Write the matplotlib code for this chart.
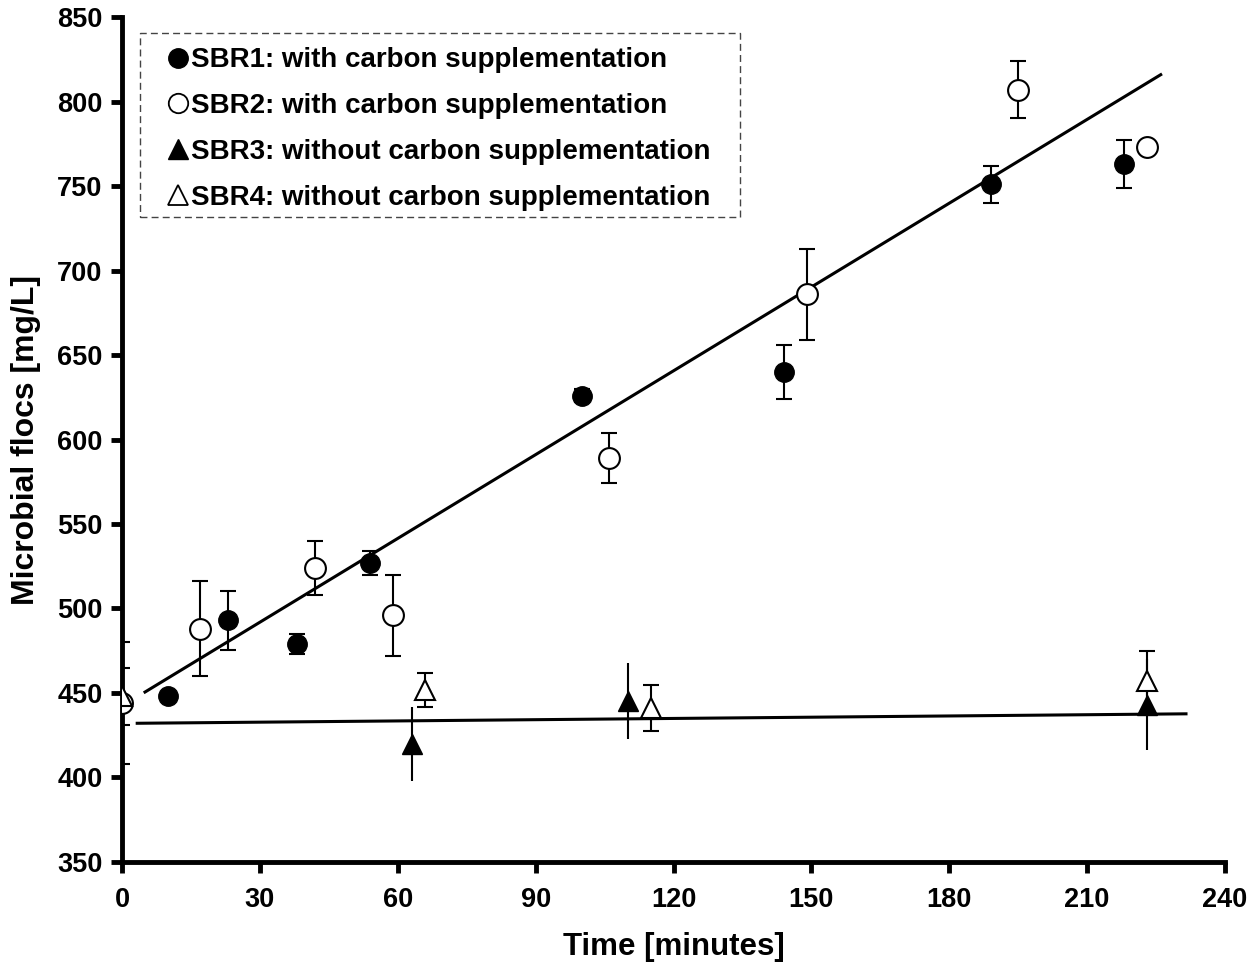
import matplotlib
matplotlib.use("Agg")
import matplotlib.pyplot as plt
from matplotlib.lines import Line2D
from matplotlib.patches import Rectangle
import numpy as np

plt.rcParams['font.family'] = ['Liberation Sans', 'DejaVu Sans']
plt.rcParams['font.weight'] = 'bold'

# ---- data ----
sbr1_t = [10, 23, 38, 54, 100, 144, 189, 218]
sbr1_y = [448, 493, 479, 527, 626, 640, 751, 763]
sbr1_e = [0, 17.5, 6, 7, 4, 16, 11, 14]

sbr2_t = [0, 17, 42, 59, 106, 149, 195, 223]
sbr2_y = [444, 488, 524, 496, 589, 686, 807, 773]
sbr2_e = [36, 28, 16, 24, 15, 27, 17, 0]

sbr3_t = [63, 110, 223]
sbr3_y = [420, 445, 443]
sbr3_e = [22, 22.5, 27]

sbr4_t = [0, 66, 115, 223]
sbr4_y = [448, 452, 441, 457]
sbr4_e = [17, 10, 13.6, 18]

# fitted trend lines (intercept, slope, t range)
fit1 = dict(a=442.3, b=1.653, t0=5, t1=226)
fit2 = dict(a=432.0, b=0.0245, t0=3.3, t1=231.5)

labels = ["SBR1: with carbon supplementation",
          "SBR2: with carbon supplementation",
          "SBR3: without carbon supplementation",
          "SBR4: without carbon supplementation"]

xticks = [0, 30, 60, 90, 120, 150, 180, 210, 240]
yticks = [350, 400, 450, 500, 550, 600, 650, 700, 750, 800, 850]

# ---- figure ----
fig = plt.figure(figsize=(12.53, 9.67), dpi=100)
ax = fig.add_axes([0.0974, 0.1086, 0.8803, 0.8738])

for f in (fit1, fit2):
    tt = np.array([f['t0'], f['t1']])
    ax.plot(tt, f['a'] + f['b'] * tt, color='black', lw=2.2, zorder=2)

ekw = dict(ecolor='black', elinewidth=1.5, capthick=1.5, linestyle='none', zorder=3)
ax.errorbar(sbr1_t, sbr1_y, yerr=sbr1_e, fmt='o', ms=14, mfc='black', mec='black',
            capsize=6, **ekw)
ax.errorbar(sbr2_t, sbr2_y, yerr=sbr2_e, fmt='o', ms=15, mfc='white', mec='black',
            mew=1.5, capsize=6, **ekw)
ax.errorbar(sbr3_t, sbr3_y, yerr=sbr3_e, fmt='^', ms=15, mfc='black', mec='black',
            capsize=0, **ekw)
ax.errorbar(sbr4_t, sbr4_y, yerr=sbr4_e, fmt='^', ms=15, mfc='white', mec='black',
            mew=1.5, capsize=6, **ekw)

ax.set_xlim(0, 240)
ax.set_ylim(350, 850)
ax.set_xticks(xticks)
ax.set_yticks(yticks)
ax.tick_params(axis='both', direction='out', length=8, width=3.5, labelsize=19.5)
ax.tick_params(axis='x', pad=10)
ax.tick_params(axis='y', pad=6)
for lab in ax.get_xticklabels() + ax.get_yticklabels():
    lab.set_fontweight('bold')
for s in ('top', 'right'):
    ax.spines[s].set_visible(False)
for s in ('left', 'bottom'):
    ax.spines[s].set_linewidth(3.5)

ax.set_xlabel("Time [minutes]", fontsize=22.5, fontweight='bold', labelpad=14)
ax.set_ylabel("Microbial flocs [mg/L]", fontsize=23, fontweight='bold', labelpad=12)

# dashed legend frame
ax.add_patch(Rectangle((0.0163, 0.763), 0.5437, 0.218, transform=ax.transAxes,
                       fill=True, facecolor='white', edgecolor='#444444',
                       linewidth=1.0, linestyle=(0, (5, 3)), zorder=4))

handles = [
    Line2D([], [], marker='o', ls='none', ms=14, mfc='black', mec='black'),
    Line2D([], [], marker='o', ls='none', ms=14, mfc='white', mec='black', mew=1.3),
    Line2D([], [], marker='^', ls='none', ms=14, mfc='black', mec='black'),
    Line2D([], [], marker='^', ls='none', ms=14, mfc='white', mec='black', mew=1.3),
]
leg = ax.legend(handles, labels, loc='upper left', bbox_to_anchor=(0.0403, 0.964),
                borderaxespad=0, borderpad=0, frameon=False,
                prop={'weight': 'bold', 'size': 20}, handlelength=0.8,
                handletextpad=0.1, labelspacing=0.71)
leg.set_zorder(5)

fig.savefig("out.png", dpi=100)
